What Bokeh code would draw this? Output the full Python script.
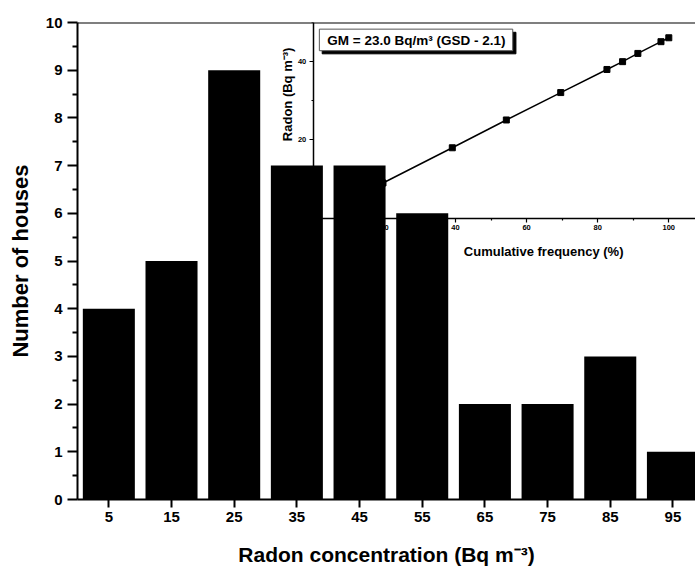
from bokeh.plotting import figure
from bokeh.models import Range1d, LinearAxis, FixedTicker, Span
from bokeh.embed import file_html
from bokeh.resources import INLINE
from bokeh.core.properties import value

FONT = "Liberation Sans"

# Histogram: number of houses per radon concentration bin (Bq m^-3)
bin_centers = [5, 15, 25, 35, 45, 55, 65, 75, 85, 95]
house_counts = [4, 5, 9, 7, 7, 6, 2, 2, 3, 1]
count_ticks = [0, 1, 2, 3, 4, 5, 6, 7, 8, 9, 10]

# Inset: radon concentration against cumulative frequency (%)
cum_freq = [8.7, 19.6, 39.1, 54.3, 69.6, 82.6, 87.0, 91.3, 97.8, 100.0]
radon_quantile = [4.0, 9.0, 18.0, 25.1, 32.1, 38.0, 40.0, 42.1, 45.1, 46.1]
inset_x_ticks = [0, 20, 40, 60, 80, 100]
inset_y_ticks = [0, 20, 40]

gm_text = "GM = 23.0 Bq/m\u00b3 (GSD - 2.1)"

p = figure(width=695, height=571, output_backend="svg", toolbar_location=None,
           x_range=Range1d(0, 98.6), y_range=Range1d(0, 10),
           min_border_left=77, min_border_right=0,
           min_border_top=22, min_border_bottom=72)
p.grid.visible = False
p.outline_line_color = None
p.background_fill_color = "white"
p.border_fill_color = "white"

# inset coordinate system sharing the same frame
p.extra_x_ranges = {"ix": Range1d(-66.33, 107.51)}
p.extra_y_ranges = {"iy": Range1d(-71.84, 50)}

# ---- main axes
xa = p.xaxis[0]
xa.ticker = FixedTicker(ticks=bin_centers)
xa.axis_label = "Radon concentration (Bq m\u207b\u00b3)"
ya = p.yaxis[0]
ya.ticker = FixedTicker(ticks=count_ticks, minor_ticks=[t + 0.5 for t in count_ticks[:-1]])
ya.axis_label = "Number of houses"
for ax in (xa, ya):
    ax.axis_line_width = 2
    ax.axis_line_color = "black"
    ax.major_tick_line_width = 2
    ax.major_tick_line_color = "black"
    ax.minor_tick_line_width = 2
    ax.minor_tick_line_color = "black"
    ax.major_tick_in = 0
    ax.minor_tick_in = 0
    ax.major_label_text_font = FONT
    ax.major_label_text_font_style = "bold"
    ax.major_label_text_font_size = "15px"
    ax.major_label_text_color = "black"
    ax.axis_label_text_font = FONT
    ax.axis_label_text_font_style = "bold"
    ax.axis_label_text_color = "black"
xa.axis_label_text_font_size = "21px"
ya.axis_label_text_font_size = "22px"
xa.major_tick_out = 8
xa.minor_tick_line_color = None
xa.major_label_standoff = 4
xa.axis_label_standoff = 18
ya.major_tick_out = 10
ya.minor_tick_out = 5
ya.major_label_standoff = 5
ya.axis_label_standoff = 10

p.add_layout(Span(location=10, dimension="width", line_color="black", line_width=2))

# ---- inset (drawn beneath the bars)
def inset_axis(ticks, minor, bounds):
    return LinearAxis(x_range_name="ix", y_range_name="iy", fixed_location=0,
                      bounds=bounds, level="underlay",
                      ticker=FixedTicker(ticks=ticks, minor_ticks=minor),
                      axis_line_width=1.5, axis_line_color="black",
                      major_tick_line_width=1.2, major_tick_line_color="black",
                      minor_tick_line_width=1.2, minor_tick_line_color="black",
                      major_tick_in=0, minor_tick_in=0,
                      major_tick_out=4, minor_tick_out=2,
                      major_label_standoff=3,
                      major_label_text_font=FONT,
                      major_label_text_font_style="bold",
                      major_label_text_font_size="7.5px",
                      major_label_text_color="black")

p.add_layout(inset_axis(inset_x_ticks, [10, 30, 50, 70, 90], (0, 112)), "below")
p.add_layout(inset_axis(inset_y_ticks, [10, 30, 50], (0, 50)), "left")

p.line(cum_freq, radon_quantile, x_range_name="ix", y_range_name="iy",
       line_color="black", line_width=1.5, level="underlay")
p.scatter(cum_freq, radon_quantile, x_range_name="ix", y_range_name="iy",
          marker="square", size=6, fill_color="black", line_color="black",
          level="underlay")

p.text(x=[64.8], y=[-8.5], text=["Cumulative frequency (%)"],
       x_range_name="ix", y_range_name="iy",
       text_font=value(FONT), text_font_style="bold", text_font_size="13px",
       text_align="center", text_baseline="middle", text_color="black")
p.text(x=[-7.3], y=[32.1], text=["Radon  (Bq m\u207b\u00b3)"], angle=1.5708,
       x_range_name="ix", y_range_name="iy",
       text_font=value(FONT), text_font_style="bold", text_font_size="13px",
       text_align="center", text_baseline="middle", text_color="black")

# GM annotation box with drop shadow
p.quad(left=[2.5], right=[57.0], top=[47.5], bottom=[42.0],
       x_range_name="ix", y_range_name="iy",
       fill_color="black", line_color="black", level="underlay")
p.quad(left=[1.7], right=[56.1], top=[48.3], bottom=[42.8],
       x_range_name="ix", y_range_name="iy",
       fill_color="white", line_color="#555555", line_width=1, level="underlay")
p.text(x=[29.0], y=[45.5], text=[gm_text], x_range_name="ix", y_range_name="iy",
       text_font=value(FONT), text_font_style="bold", text_font_size="13.5px",
       text_align="center", text_baseline="middle", text_color="black",
       level="underlay")

# ---- histogram bars
p.vbar(x=bin_centers, top=house_counts, width=8.3, bottom=0,
       fill_color="black", line_color=None)

open("out.html", "w").write(file_html(p, INLINE))
